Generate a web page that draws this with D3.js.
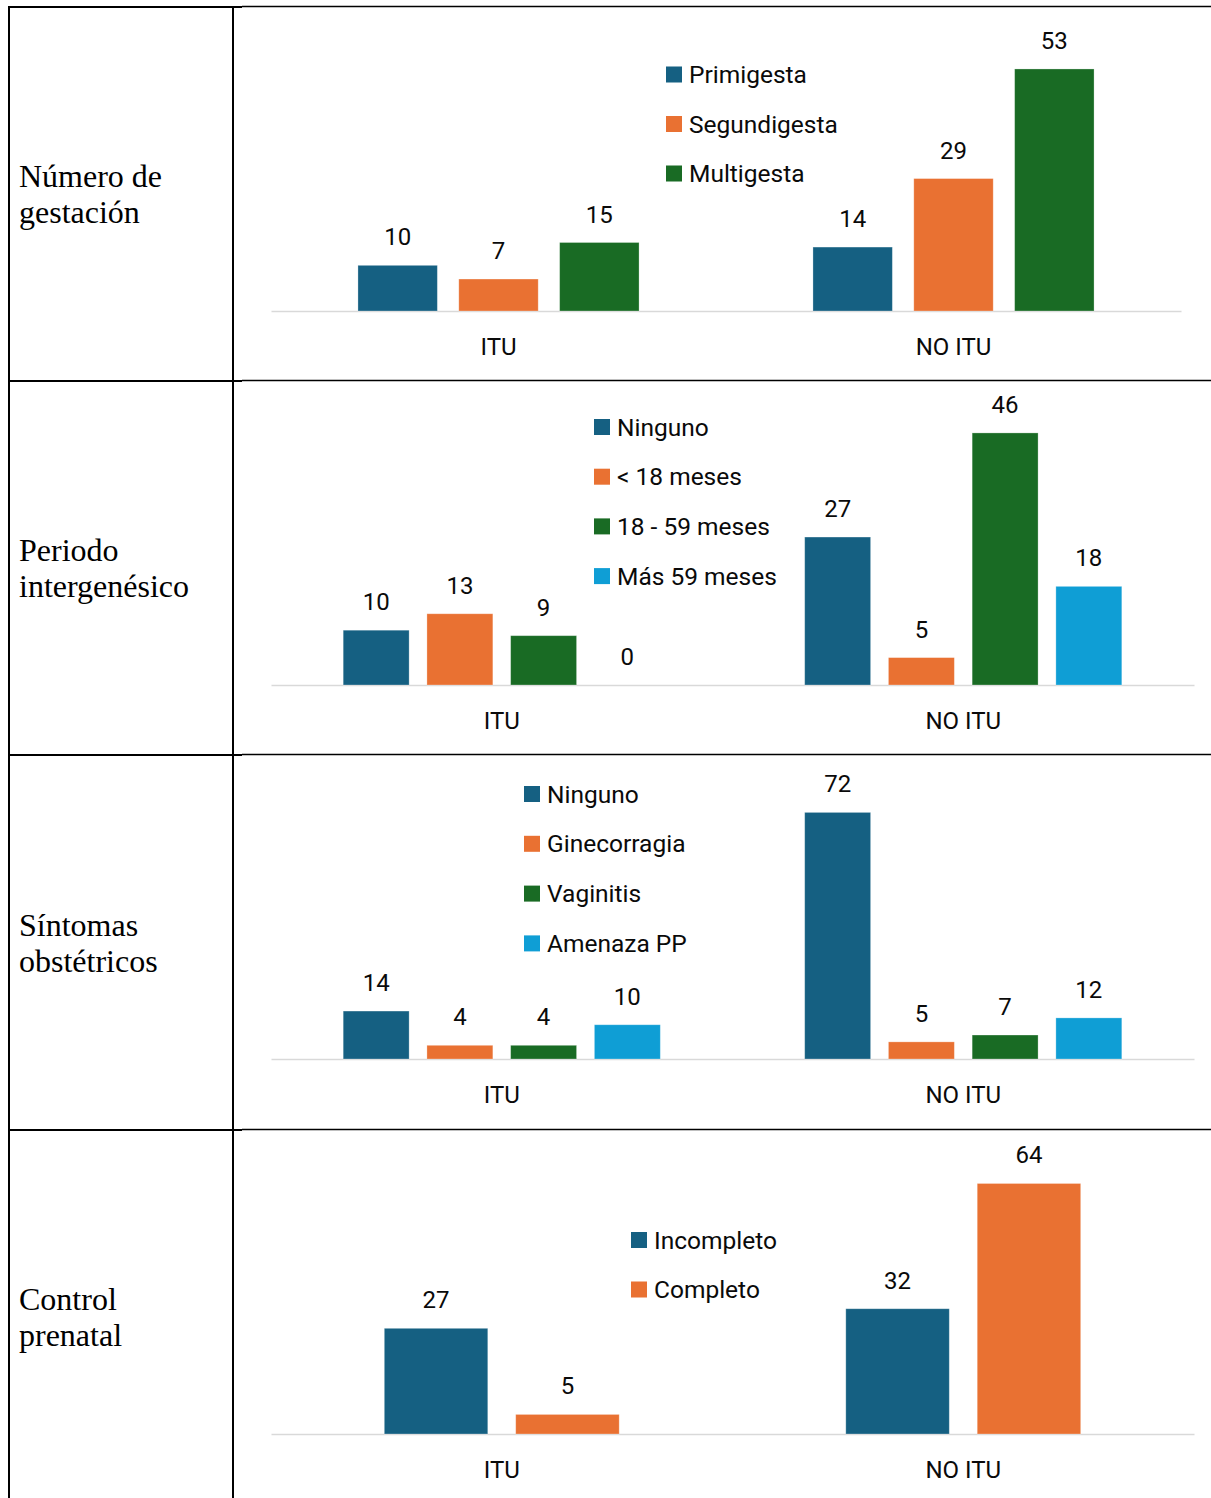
<!DOCTYPE html>
<html>
<head>
<meta charset="utf-8">
<script src="https://cdn.jsdelivr.net/npm/d3@7"></script>
<style>
  html, body { margin: 0; padding: 0; background: #fff; }
  svg { display: block; }
</style>
</head>
<body>
<svg id="chart" width="1211" height="1498"></svg>
<script>
// ---------- DATA ----------
const categories = ["ITU", "NO ITU"];

const rowLabels = [
  ["Número de", "gestación"],
  ["Periodo", "intergenésico"],
  ["Síntomas", "obstétricos"],
  ["Control", "prenatal"]
];

const gestaSeries = ["Primigesta", "Segundigesta", "Multigesta"];
const gestaITU    = [10, 7, 15];
const gestaNoITU  = [14, 29, 53];

const periodoSeries = ["Ninguno", "< 18 meses", "18 - 59 meses", "Más 59 meses"];
const periodoITU    = [10, 13, 9, 0];
const periodoNoITU  = [27, 5, 46, 18];

const sintomasSeries = ["Ninguno", "Ginecorragia", "Vaginitis", "Amenaza PP"];
const sintomasITU    = [14, 4, 4, 10];
const sintomasNoITU  = [72, 5, 7, 12];

const controlSeries = ["Incompleto", "Completo"];
const controlITU    = [27, 5];
const controlNoITU  = [32, 64];

// hidden value-axis maxima of each chart
const axisMax = [60, 50, 80, 70];

const seriesColors = ["#156082", "#E97132", "#196B24", "#0F9ED5"];

// ---------- LAYOUT (not data) ----------
const panels = [
  { series: gestaSeries,    values: [gestaITU, gestaNoITU],       base: 311,  x0: 271, x1: 1181, legX: 666, legY: 74.5, legStep: 49.5 },
  { series: periodoSeries,  values: [periodoITU, periodoNoITU],   base: 685,  x0: 271, x1: 1194, legX: 594, legY: 427,  legStep: 49.7 },
  { series: sintomasSeries, values: [sintomasITU, sintomasNoITU], base: 1059, x0: 271, x1: 1194, legX: 524, legY: 794,  legStep: 49.8 },
  { series: controlSeries,  values: [controlITU, controlNoITU],   base: 1434, x0: 271, x1: 1194, legX: 631, legY: 1240, legStep: 49.5 }
];
const plotH = 274;
const rowTops = [7, 381, 755, 1130];
const rowCenters = [194, 568, 942.5, 1317];

const svg = d3.select("#chart");
const sans = "Roboto, 'Liberation Sans', Arial, sans-serif";
const serif = "'Liberation Serif', 'Times New Roman', serif";
const ink = "#0a0a0a";

// ---------- TABLE GRID ----------
const grid = svg.append("g").attr("stroke", "#000").attr("fill", "none");
grid.append("line").attr("x1", 9).attr("x2", 9).attr("y1", 6).attr("y2", 1498).attr("stroke-width", 2);
grid.append("line").attr("x1", 233).attr("x2", 233).attr("y1", 6).attr("y2", 1498).attr("stroke-width", 2);
rowTops.forEach(y => {
  grid.append("line").attr("x1", 8).attr("x2", 242).attr("y1", y).attr("y2", y).attr("stroke-width", 2);
  grid.append("line").attr("x1", 242).attr("x2", 1211).attr("y1", y - 0.5).attr("y2", y - 0.5).attr("stroke-width", 1.3);
});

// ---------- ROW LABELS ----------
rowLabels.forEach((lines, i) => {
  const t = svg.append("text")
    .attr("font-family", serif)
    .attr("font-size", 32)
    .attr("fill", "#000");
  lines.forEach((ln, j) => {
    t.append("tspan").attr("x", 19).attr("y", rowCenters[i] - 7 + j * 36).text(ln);
  });
});

// ---------- CHARTS ----------
panels.forEach((p, pi) => {
  const g = svg.append("g");
  const n = p.series.length;

  const x = d3.scaleBand().domain(categories).range([p.x0, p.x1]).padding(0);
  const B = x.bandwidth();
  const w = B / (n * 1.27 - 0.27 + 2.19);
  const half = 2.19 * w / 2;
  const xs = d3.scaleBand().domain(p.series).range([half, B - half])
    .paddingInner(0.27 / 1.27).paddingOuter(0);
  const y = d3.scaleLinear().domain([0, axisMax[pi]]).range([p.base, p.base - plotH]);
  const color = d3.scaleOrdinal().domain(p.series).range(seriesColors);

  // category axis
  const axis = g.append("g")
    .attr("transform", `translate(0,${p.base})`)
    .call(d3.axisBottom(x).tickSize(0).tickSizeOuter(0).tickPadding(26.5));
  axis.select(".domain").attr("stroke", "#D9D9D9").attr("stroke-width", 1.6);
  axis.selectAll(".tick text")
    .attr("font-family", sans).attr("font-size", 24).attr("fill", ink);

  // bars
  const rows = [];
  categories.forEach((c, ci) => {
    p.series.forEach((s, si) => rows.push({ cat: c, ser: s, val: p.values[ci][si] }));
  });

  g.append("g").selectAll("rect").data(rows).join("rect")
    .attr("x", d => x(d.cat) + xs(d.ser))
    .attr("width", xs.bandwidth())
    .attr("y", d => y(d.val))
    .attr("height", d => y(0) - y(d.val))
    .attr("fill", d => color(d.ser))
    .attr("stroke", "#fff").attr("stroke-opacity", 0.35).attr("stroke-width", 0.8);

  // data labels
  g.append("g").selectAll("text").data(rows).join("text")
    .attr("x", d => x(d.cat) + xs(d.ser) + xs.bandwidth() / 2)
    .attr("y", d => y(d.val) - 20)
    .attr("text-anchor", "middle")
    .attr("font-family", sans).attr("font-size", 24).attr("fill", ink)
    .text(d => d.val);

  // legend
  const leg = g.append("g").selectAll("g").data(p.series).join("g")
    .attr("transform", (d, i) => `translate(${p.legX},${p.legY + i * p.legStep})`);
  leg.append("rect").attr("x", 0).attr("y", -8).attr("width", 16).attr("height", 16)
    .attr("fill", d => color(d));
  leg.append("text").attr("x", 23).attr("y", 8.5)
    .attr("font-family", sans).attr("font-size", 24.5).attr("fill", ink)
    .text(d => d);
});
</script>
</body>
</html>
